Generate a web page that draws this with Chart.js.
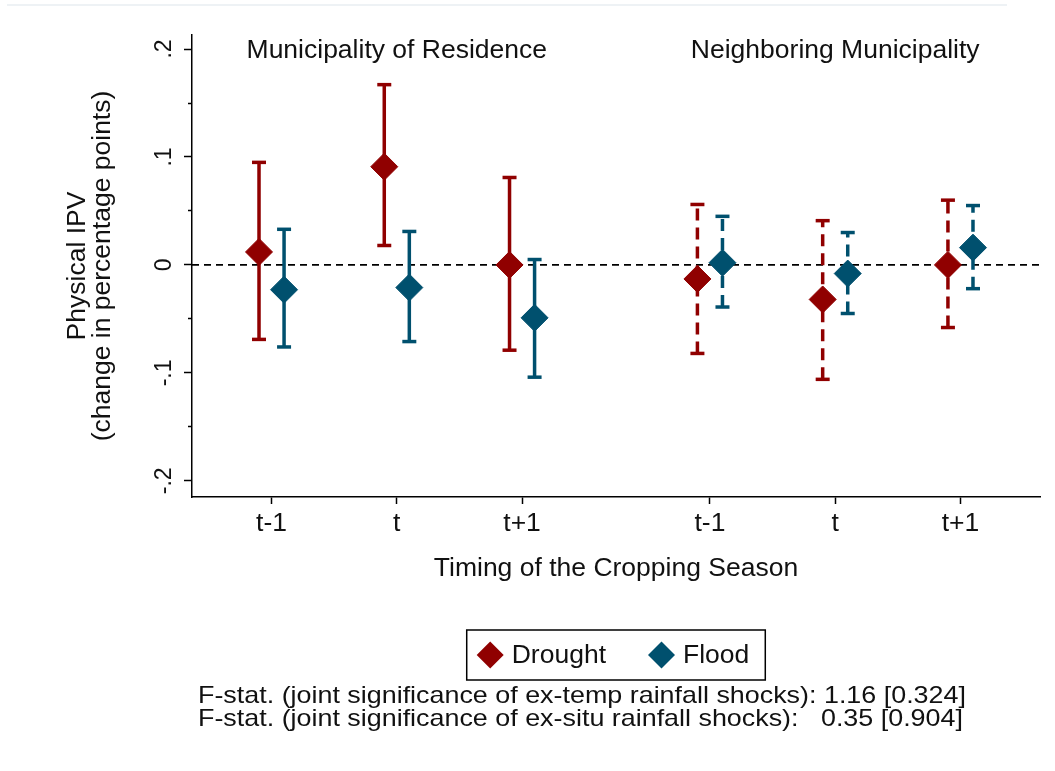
<!DOCTYPE html>
<html>
<head>
<meta charset="utf-8">
<script src="https://cdn.jsdelivr.net/npm/chart.js@4.4.1/dist/chart.umd.min.js"></script>
<style>
  html, body { margin: 0; padding: 0; background: #fff; }
  .frame { position: relative; width: 1055px; height: 771px; }
  .frame_rule { position: absolute; left: 7px; top: 4px; width: 1000px; height: 2px; background: #eef2f5; }
  #chart { position: absolute; left: 0; top: 0; }
</style>
</head>
<body>
<div class="frame">
  <div class="frame_rule"></div>
  <canvas id="chart" width="1055" height="771"></canvas>
</div>
<script>
// Coefficient estimates and 95% CIs by timing of the cropping season
const positions = [1, 2, 3, 4.5, 5.5, 6.5];
const tickLabels = ["t-1", "t", "t+1", "t-1", "t", "t+1"];
const panelNames = ["Municipality of Residence", "Neighboring Municipality"];
const seriesNames = ["Drought", "Flood"];

const droughtEst = [0.012, 0.091, 0.000, -0.013, -0.032, 0.000];
const droughtLo = [-0.069, 0.018, -0.079, -0.082, -0.106, -0.058];
const droughtHi = [0.095, 0.167, 0.081, 0.056, 0.041, 0.060];

const floodEst = [-0.023, -0.021, -0.049, 0.002, -0.008, 0.016];
const floodLo = [-0.076, -0.071, -0.104, -0.039, -0.045, -0.022];
const floodHi = [0.033, 0.031, 0.005, 0.045, 0.030, 0.055];

const yTicks = [-0.2, -0.1, 0, 0.1, 0.2];

const fStatNotes = [
  "F-stat. (joint significance of ex-temp rainfall shocks): 1.16 [0.324]",
  "F-stat. (joint significance of ex-situ rainfall shocks):   0.35 [0.904]"
];

const RED = "#900000";
const BLUE = "#00506e";
const FONT = "'Liberation Sans', Arial, sans-serif";
const TEXT_SIZE = 26.5;
const SHIFT = 0.1; // horizontal dodge of the two series around each tick

const xMin = 0.365, xMax = 7.135;
const yMin = -0.215, yMax = 0.213;

// Build the whisker segments for one series and one panel (null breaks the line)
function whiskers(lo, hi, dx, from, to) {
  const pts = [];
  for (let i = from; i < to; i++) {
    pts.push({ x: positions[i] + dx, y: lo[i] });
    pts.push({ x: positions[i] + dx, y: hi[i] });
    pts.push({ x: positions[i] + dx, y: null });
  }
  return pts;
}

function estimates(est, dx) {
  return est.map((v, i) => ({ x: positions[i] + dx, y: v }));
}

function whiskerSet(data, color, dashed) {
  return {
    type: "line",
    data: data,
    borderColor: color,
    borderWidth: 3.5,
    borderDash: dashed ? [12, 7] : [],
    spanGaps: false,
    pointStyle: "line",
    pointRadius: 7,
    pointBorderWidth: 3.5,
    pointBorderColor: color,
    pointBackgroundColor: color,
    order: 3
  };
}

function markerSet(label, data, color) {
  return {
    type: "scatter",
    label: label,
    data: data,
    pointStyle: "rectRot",
    pointRadius: 13.5,
    pointBorderWidth: 1,
    pointBorderColor: color,
    pointBackgroundColor: color,
    order: 1
  };
}

function tickText(v) {
  return String(Math.round(v * 10) / 10).replace("0.", ".");
}

function isMajor(v) {
  return yTicks.some(t => Math.abs(t - v) < 1e-6);
}

// Panel headings, legend box and F-stat notes
const annotations = {
  id: "annotations",
  afterDraw(chart) {
    const { ctx, chartArea, scales } = chart;
    ctx.save();

    ctx.fillStyle = "#111";
    ctx.font = `${TEXT_SIZE}px ${FONT}`;
    ctx.textAlign = "center";
    ctx.textBaseline = "middle";
    const headY = scales.y.getPixelForValue(0.2) + 2;
    ctx.fillText(panelNames[0], scales.x.getPixelForValue(positions[1]), headY);
    ctx.fillText(panelNames[1], scales.x.getPixelForValue(positions[4]), headY);

    // legend
    const colors = [RED, BLUE];
    const marker = 13.5, gapText = 8, gapItem = 42, padL = 10, padR = 16;
    const widths = seriesNames.map(n => ctx.measureText(n).width);
    let total = padL + padR;
    widths.forEach((w, i) => { total += marker * 2 + gapText + w + (i ? gapItem : 0); });
    const cx = (chartArea.left + chartArea.right) / 2;
    const boxTop = 630, boxH = 50;
    let lx = cx - total / 2;
    ctx.strokeStyle = "#000";
    ctx.lineWidth = 1.5;
    ctx.strokeRect(lx, boxTop, total, boxH);
    lx += padL;
    const ly = boxTop + boxH / 2;
    ctx.textAlign = "left";
    seriesNames.forEach((n, i) => {
      if (i) lx += gapItem;
      ctx.fillStyle = colors[i];
      ctx.beginPath();
      ctx.moveTo(lx, ly);
      ctx.lineTo(lx + marker, ly - marker);
      ctx.lineTo(lx + marker * 2, ly);
      ctx.lineTo(lx + marker, ly + marker);
      ctx.closePath();
      ctx.fill();
      lx += marker * 2 + gapText;
      ctx.fillStyle = "#111";
      ctx.fillText(n, lx, ly + 1);
      lx += widths[i];
    });

    // notes, set in a slightly widened face
    ctx.font = `24px ${FONT}`;
    ctx.fillStyle = "#111";
    fStatNotes.forEach((line, i) => {
      ctx.save();
      ctx.translate(chartArea.left + 6, 696 + i * 23);
      ctx.scale(1.12, 1);
      ctx.fillText(line, 0, 0);
      ctx.restore();
    });

    ctx.restore();
  }
};

const zeroLine = {
  type: "line",
  data: [{ x: xMin, y: 0 }, { x: xMax, y: 0 }],
  borderColor: "#000",
  borderWidth: 1.6,
  borderDash: [7, 5],
  pointRadius: 0,
  order: 5
};

new Chart(document.getElementById("chart"), {
  type: "scatter",
  data: {
    datasets: [
      markerSet(seriesNames[0], estimates(droughtEst, -SHIFT), RED),
      markerSet(seriesNames[1], estimates(floodEst, SHIFT), BLUE),
      whiskerSet(whiskers(droughtLo, droughtHi, -SHIFT, 0, 3), RED, false),
      whiskerSet(whiskers(floodLo, floodHi, SHIFT, 0, 3), BLUE, false),
      whiskerSet(whiskers(droughtLo, droughtHi, -SHIFT, 3, 6), RED, true),
      whiskerSet(whiskers(floodLo, floodHi, SHIFT, 3, 6), BLUE, true),
      zeroLine
    ]
  },
  options: {
    responsive: false,
    animation: false,
    devicePixelRatio: 1,
    layout: { padding: { top: 35, right: 15, bottom: 182, left: 0 } },
    plugins: {
      legend: { display: false },
      tooltip: { enabled: false }
    },
    scales: {
      x: {
        type: "linear",
        min: xMin,
        max: xMax,
        afterBuildTicks: axis => { axis.ticks = positions.map(v => ({ value: v })); },
        afterFit: scale => { scale.height = 92; },
        ticks: {
          autoSkip: false,
          maxRotation: 0,
          padding: 4,
          color: "#111",
          font: { family: FONT, size: TEXT_SIZE },
          callback: (v, i) => tickLabels[i]
        },
        grid: {
          drawOnChartArea: false,
          tickLength: 7,
          tickWidth: 1.5,
          tickColor: "#000"
        },
        border: { color: "#000", width: 1.5 },
        title: {
          display: true,
          text: "Timing of the Cropping Season",
          color: "#111",
          font: { family: FONT, size: TEXT_SIZE },
          padding: { top: 0, bottom: 4 }
        }
      },
      y: {
        type: "linear",
        min: yMin,
        max: yMax,
        afterFit: scale => { scale.width = 192; },
        ticks: {
          stepSize: 0.05,
          includeBounds: false,
          autoSkip: false,
          minRotation: 90,
          maxRotation: 90,
          crossAlign: "center",
          padding: 6,
          color: "#111",
          font: { family: FONT, size: 23 },
          callback: v => (isMajor(v) ? tickText(v) : "")
        },
        grid: {
          drawOnChartArea: false,
          tickLength: 8,
          tickWidth: 1.5,
          tickColor: "#000",
          tickBorderDash: ctx => (ctx.tick && isMajor(ctx.tick.value) ? [] : [0, 4, 4])
        },
        border: { color: "#000", width: 1.5 },
        title: {
          display: true,
          text: ["Physical IPV", "(change in percentage points)"],
          color: "#111",
          font: { family: FONT, size: TEXT_SIZE, lineHeight: 0.95 },
          padding: { top: 65 }
        }
      }
    }
  },
  plugins: [annotations]
});
</script>
</body>
</html>
